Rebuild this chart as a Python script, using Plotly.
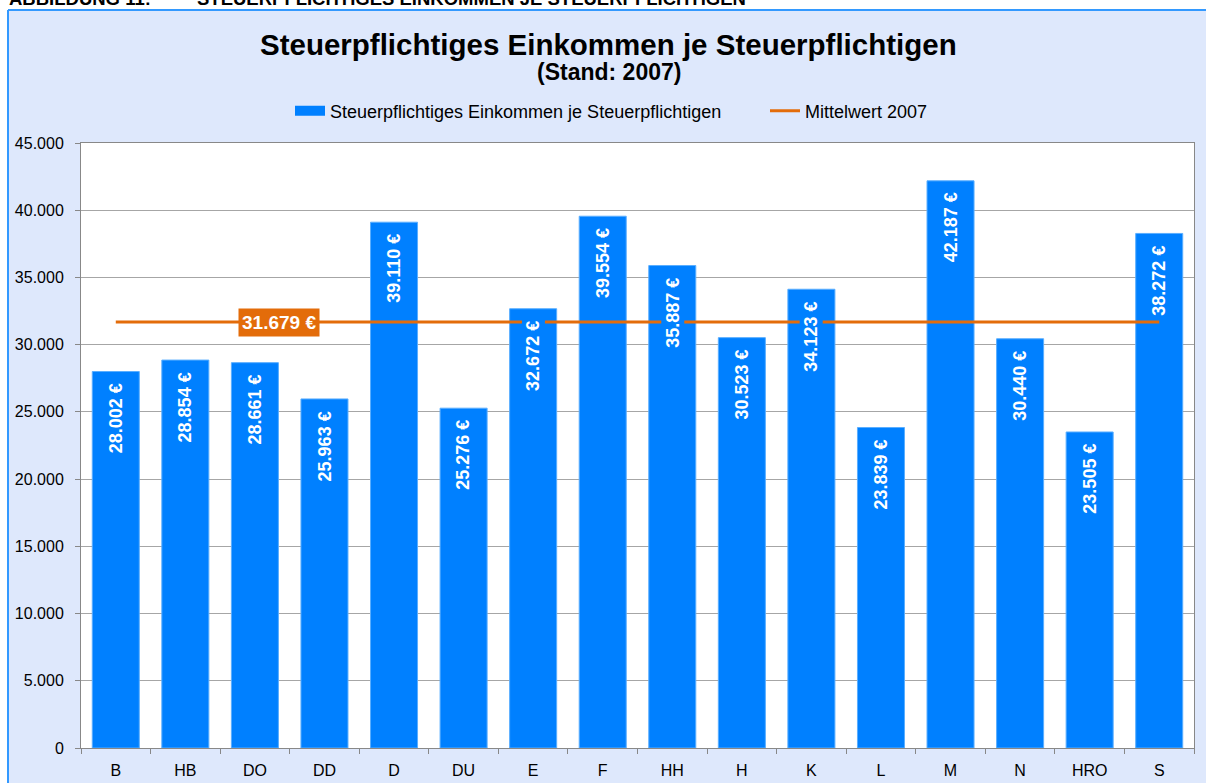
import plotly.graph_objects as go

categories = ["B", "HB", "DO", "DD", "D", "DU", "E", "F", "HH", "H", "K", "L", "M", "N", "HRO", "S"]
values = [28002, 28854, 28661, 25963, 39110, 25276, 32672, 39554, 35887, 30523, 34123, 23839, 42187, 30440, 23505, 38272]
mean_value = 31679
bar_name = "Steuerpflichtiges Einkommen je Steuerpflichtigen"
line_name = "Mittelwert 2007"
title_text = "Steuerpflichtiges Einkommen je Steuerpflichtigen"
subtitle_text = "(Stand: 2007)"
header_left = "ABBILDUNG 11:"
header_right = "STEUERPFLICHTIGES EINKOMMEN JE STEUERPFLICHTIGEN"

W, H = 1206, 783
L, R, T, B = 81, 12, 143, 35
PW, PH = W - L - R, H - T - B

def px_x(p):
    return (p - L) / PW

def px_y(p):
    return (H - B - p) / PH

BAR_BLUE = "#0080ff"
ORANGE = "#e36c0a"
BG = "#dee8fc"
FONT = "Liberation Sans, Arial, sans-serif"

def de(v):
    return f"{v:,}".replace(",", ".") + " €"

fig = go.Figure()
fig.add_trace(go.Bar(
    x=categories, y=values, name=bar_name, showlegend=False,
    marker=dict(color=BAR_BLUE, line=dict(color="#5aaeff", width=1)),
    hoverinfo="x+y",
))
# legend proxy for bar series (wide swatch)
fig.add_trace(go.Scatter(
    x=[None], y=[None], mode="lines", name=bar_name,
    line=dict(color=BAR_BLUE, width=10),
))
fig.add_trace(go.Scatter(
    x=categories, y=[mean_value] * len(categories), mode="lines", name=line_name,
    line=dict(color=ORANGE, width=3),
))

annotations = []
for c, v in zip(categories, values):
    annotations.append(dict(
        x=c, y=v, xref="x", yref="y", text=f"<b>{de(v)}</b>", showarrow=False,
        textangle=-90, yanchor="top", xanchor="center", yshift=-10,
        font=dict(family=FONT, size=18, color="white"),
        bgcolor=BAR_BLUE, borderpad=1,
    ))
annotations.append(dict(
    x=2.35, y=mean_value, xref="x", yref="y", text=f"<b>{de(mean_value)}</b>",
    showarrow=False, xanchor="center", yanchor="middle",
    font=dict(family=FONT, size=19, color="white"), bgcolor=ORANGE, borderpad=3,
))
annotations.append(dict(
    x=px_x(608), y=px_y(44), xref="paper", yref="paper", text=f"<b>{title_text}</b>",
    showarrow=False, xanchor="center", yanchor="middle",
    font=dict(family=FONT, size=29.5, color="black"),
))
annotations.append(dict(
    x=px_x(609), y=px_y(72), xref="paper", yref="paper", text=f"<b>{subtitle_text}</b>",
    showarrow=False, xanchor="center", yanchor="middle",
    font=dict(family=FONT, size=23, color="black"),
))
annotations.append(dict(
    x=px_x(7), y=px_y(11), xref="paper", yref="paper", text=f"<b>{header_left}</b>",
    showarrow=False, xanchor="left", yanchor="bottom",
    font=dict(family=FONT, size=18.5, color="black"),
))
annotations.append(dict(
    x=px_x(195), y=px_y(11), xref="paper", yref="paper", text=f"<b>{header_right}</b>",
    showarrow=False, xanchor="left", yanchor="bottom",
    font=dict(family=FONT, size=18.5, color="black"),
))

shapes = [
    dict(type="rect", xref="paper", yref="paper", x0=px_x(0), x1=px_x(W), y0=px_y(0), y1=px_y(10),
         fillcolor="white", line=dict(width=0), layer="below"),
    dict(type="rect", xref="paper", yref="paper", x0=px_x(0), x1=px_x(8), y0=px_y(0), y1=px_y(H),
         fillcolor="white", line=dict(width=0), layer="below"),
    dict(type="line", xref="paper", yref="paper", x0=px_x(8), x1=px_x(W), y0=px_y(10), y1=px_y(10),
         line=dict(color="#3399ff", width=2), layer="below"),
    dict(type="line", xref="paper", yref="paper", x0=px_x(8), x1=px_x(8), y0=px_y(10), y1=px_y(H),
         line=dict(color="#3399ff", width=2), layer="below"),
]

fig.update_layout(
    width=W, height=H,
    margin=dict(l=L, r=R, t=T, b=B, autoexpand=False),
    paper_bgcolor=BG, plot_bgcolor="white",
    separators=",.",
    bargap=0.324,
    font=dict(family=FONT, size=16, color="black"),
    showlegend=True,
    legend=dict(orientation="h", x=px_x(290), xanchor="left", y=px_y(111), yanchor="middle",
                bgcolor="rgba(0,0,0,0)", font=dict(family=FONT, size=18), itemwidth=30,
                traceorder="normal", entrywidth=430, entrywidthmode="pixels"),
    annotations=annotations,
    shapes=shapes,
)
fig.update_xaxes(
    type="category", showline=True, linecolor="#888888", linewidth=1, mirror=True,
    ticks="outside", tickson="boundaries", ticklen=5, tickcolor="#888888",
    showgrid=False, ticklabelstandoff=8, tickfont=dict(size=16),
)
fig.update_yaxes(
    range=[0, 45000], dtick=5000, tickformat=",d", showline=True, linecolor="#888888",
    linewidth=1, mirror=True, ticks="outside", ticklen=5, tickcolor="#888888",
    showgrid=True, gridcolor="#a6a6a6", gridwidth=1, zeroline=False,
    ticklabelstandoff=8, tickfont=dict(size=16),
)

fig.write_html(
    "out.html",
    config={"displayModeBar": False},
    post_script="document.body.style.margin='0px';document.body.style.overflow='hidden';",
)
